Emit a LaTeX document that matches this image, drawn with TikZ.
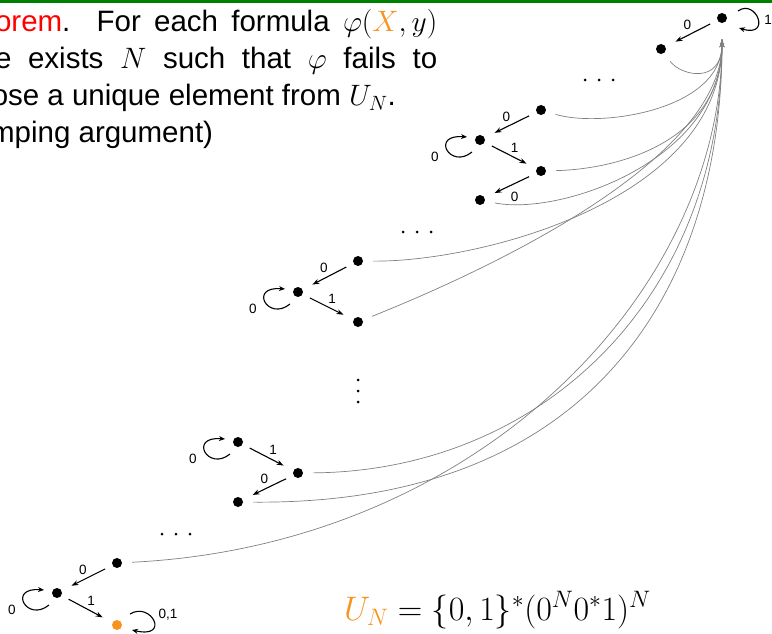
\RequirePackage{fix-cm}
\documentclass[tikz,border=0pt]{standalone}
\usepackage[no-math]{fontspec}
\usetikzlibrary{arrows.meta}
\newfontfamily\arial{Liberation Sans}
\definecolor{myorange}{RGB}{247,148,30}
\definecolor{mygreen}{RGB}{0,128,0}
\definecolor{mygray}{RGB}{128,128,128}
\begin{document}
\begin{tikzpicture}[x=1pt,y=-1pt,
  dot/.style={circle,fill,inner sep=0pt,minimum size=10pt},
  lbl/.style={font=\arial\fontsize{13.5}{14}\selectfont, inner sep=0pt},
  tr/.style={-{Stealth[length=7pt,width=5pt]}, line width=1.1pt, shorten <=8pt, shorten >=11pt},
  lp/.style={-{Stealth[length=6pt,width=5pt]}, line width=1.1pt},
  hubline/.style={-{Stealth[length=8pt,width=4.5pt]}, draw=mygray, line width=0.7pt, shorten <=10pt}]
\useasboundingbox (0,0) rectangle (772,634);
\clip (0,0) rectangle (772,634);
\fill[mygreen] (0,0) rectangle (772,3.5);

% text
\node[anchor=base west, inner sep=0pt, font=\arial\fontsize{29.5}{37}\selectfont] (thm) at (-56,32)
 {\parbox[t]{493pt}{\setlength{\parindent}{0pt}\textcolor{red}{Theorem}. For each formula $\varphi(\textcolor{myorange}{X},y)$\linebreak there exists $N$ such that $\varphi$ fails to\linebreak choose a unique element from $U_N$.\par (Pumping argument)}};

\node[anchor=base west, inner sep=0pt, font=\fontsize{34}{34}\selectfont] (eq) at (344,620)
 {$\textcolor{myorange}{U_N}=\{0,1\}^*(0^N0^*1)^N$};

% nodes
\node[dot] (T1) at (722,18) {};
\node[dot] (T0) at (661,49) {};
\node[dot] (a0) at (541,110) {};
\node[dot] (a) at (480,140) {};
\node[dot] (a1) at (541,171) {};
\node[dot] (a2) at (480,200) {};
\node[dot] (b0) at (358,261) {};
\node[dot] (b) at (298,292) {};
\node[dot] (b1) at (358,322) {};
\node[dot] (c) at (238,442) {};
\node[dot] (c1) at (298,473) {};
\node[dot] (c2) at (238,502) {};
\node[dot] (d0) at (117,563) {};
\node[dot] (d) at (57,593) {};
\node[dot, fill=myorange] (d1) at (117,625) {};
\coordinate (hub) at (722,39);

% transitions
\draw[tr] (T1) -- node[lbl, pos=0.58, above=5pt] (lT) {0} (T0);
\draw[tr] (a0) -- node[lbl, pos=0.58, above=5pt] (la0) {0} (a);
\draw[tr] (a) -- node[lbl, pos=0.58, above=5pt] (la1) {1} (a1);
\draw[tr] (a1) -- node[lbl, pos=0.42, below=8pt] (la2) {0} (a2);
\draw[tr] (b0) -- node[lbl, pos=0.58, above=5pt] (lb0) {0} (b);
\draw[tr] (b) -- node[lbl, pos=0.58, above=5pt] (lb1) {1} (b1);
\draw[tr] (c) -- node[lbl, pos=0.6, above=5pt] (lc1) {1} (c1);
\draw[tr] (c1) -- node[lbl, pos=0.57, above=5pt] (lc2) {0} (c2);
\draw[tr] (d0) -- node[lbl, pos=0.58, above=5pt] (ld0) {0} (d);
\draw[tr] (d) -- node[lbl, pos=0.58, above=5pt] (ld1) {1} (d1);

% loops
\foreach \n in {a,b,c,d}{
  \draw[lp] ([shift={(-8,12)}]\n.center) .. controls +(-22,18) and +(-37,-3) .. ([shift={(-13,-3)}]\n.center);
  \node[lbl] (loop\n) at ([shift={(-45,17)}]\n.center) {0};
}
\draw[lp] ([shift={(16,-7)}]T1.center) .. controls +(18,-13) and +(33,10) .. ([shift={(17,10)}]T1.center);
\node[lbl] (loopT) at ([shift={(46,2)}]T1.center) {1};
\draw[lp] ([shift={(13,-11)}]d1.center) .. controls +(21,-13) and +(39,9) .. ([shift={(15,5)}]d1.center);
\node[lbl] (loopd1) at ([shift={(51,-10)}]d1.center) {0,1};

% curves to hub
\draw[hubline] (T0) .. controls +(20,27) and +(0,46) .. (hub);
\draw[hubline] (a0) .. controls +(60,18) and +(0,71) .. (hub);
\draw[hubline] (a1) .. controls +(80,-2) and +(0,101) .. (hub);
\draw[hubline] (a2) .. controls +(81,16) and +(0,121) .. (hub);
\draw[hubline] (b0) .. controls +(122,1) and +(0,161) .. (hub);
\draw[hubline] (b1) .. controls +(92,-37) and +(0,131) .. (hub);
\draw[hubline] (c1) .. controls +(242,-2) and +(0,261) .. (hub);
\draw[hubline] (c2) .. controls +(362,3) and +(0,241) .. (hub);
\draw[hubline] (d0) .. controls +(363,-18) and +(0,251) .. (hub);

% ellipses
\foreach \x in {585,599,613} \fill (\x,80) circle[radius=1.5pt];
\foreach \x in {403,417,431} \fill (\x,232) circle[radius=1.5pt];
\foreach \x in {162,176,190} \fill (\x,534) circle[radius=1.5pt];
\foreach \y in {380,391,402} \fill (358,\y) circle[radius=1.5pt];
\end{tikzpicture}
\end{document}
